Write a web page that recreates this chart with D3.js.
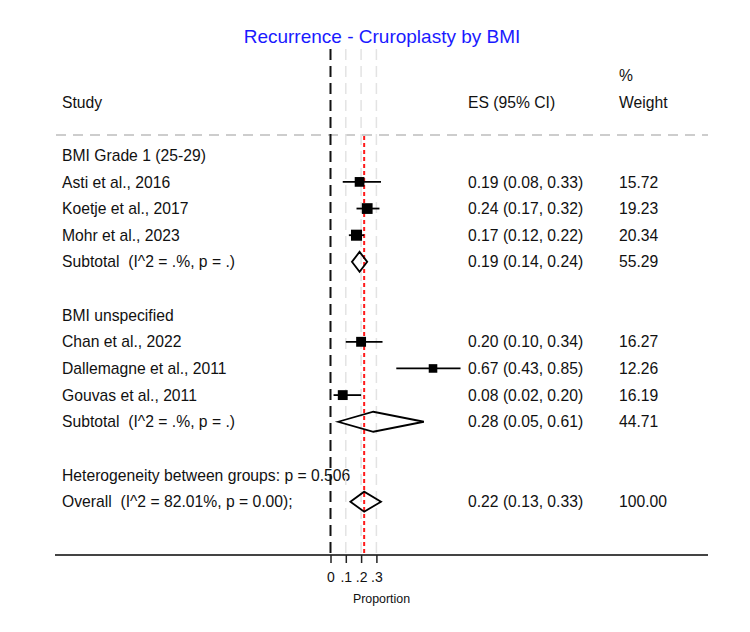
<!DOCTYPE html>
<html>
<head>
<meta charset="utf-8">
<script src="https://cdn.jsdelivr.net/npm/d3@7"></script>
<style>
	body { margin:0; background:#fff; }
	text { font-family: "Liberation Sans", Arial, sans-serif; fill:#111; white-space:pre; }
</style>
</head>
<body>
<svg id="chart" width="750" height="632"></svg>
<script>
// Study rows (row index into the table layout)
const studyNames = ['Asti et al., 2016','Koetje et al., 2017','Mohr et al., 2023','Chan et al., 2022','Dallemagne et al., 2011','Gouvas et al., 2011'];
const studyRows  = [4, 5, 6, 10, 11, 12];
const studyES    = [0.19, 0.24, 0.17, 0.20, 0.67, 0.08];
const studyLo    = [0.08, 0.17, 0.12, 0.10, 0.43, 0.02];
const studyHi    = [0.33, 0.32, 0.22, 0.34, 0.85, 0.20];
const studyW     = [15.72, 19.23, 20.34, 16.27, 12.26, 16.19];

// Pooled rows (diamonds)
const poolNames = ['Subtotal  (I^2 = .%, p = .)','Subtotal  (I^2 = .%, p = .)','Overall  (I^2 = 82.01%, p = 0.00);'];
const poolRows  = [7, 13, 16];
const poolES    = [0.19, 0.28, 0.22];
const poolLo    = [0.14, 0.05, 0.13];
const poolHi    = [0.24, 0.61, 0.33];
const poolW     = [55.29, 44.71, 100.00];

const groupNames = ['BMI Grade 1 (25-29)','BMI unspecified'];
const groupRows  = [3, 9];
const hetText = 'Heterogeneity between groups: p = 0.506';
const hetRow = 15;

const xTicks = [0, 0.1, 0.2, 0.3];
const tickLabels = ['0','.1','.2','.3'];

const svg = d3.select('#chart');
const f2 = d3.format('.2f');

const x = d3.scaleLinear().domain([0,1]).range([330.5,483.5]);
const y = d3.scaleLinear().domain([0,1]).range([75.3,101.95]);
const axisY = 555;
const topY = 49;
const colLabel = 62, colES = 468, colW = 619;
const fs = 15.7;
const base = 5.6; // row centre -> baseline

// title
svg.append('text')
	.attr('x',382).attr('y',43)
	.attr('text-anchor','middle')
	.style('font-size','19px')
	.style('fill','#1a1aff')
	.text('Recurrence - Cruroplasty by BMI');

// headers
const hdr = svg.append('g').style('font-size',fs+'px');
hdr.append('text').attr('x',colW).attr('y',y(0)+base).text('%');
hdr.append('text').attr('x',colLabel).attr('y',y(1)+base).text('Study');
hdr.append('text').attr('x',colES).attr('y',y(1)+base).text('ES (95% CI)');
hdr.append('text').attr('x',colW).attr('y',y(1)+base).text('Weight');

svg.append('line')
	.attr('x1',56).attr('x2',708).attr('y1',135).attr('y2',135)
	.attr('stroke','#bdbdbd').attr('stroke-width',1.3)
	.attr('stroke-dasharray','10,7');

// text columns
const txt = svg.append('g').style('font-size',fs+'px');
groupNames.forEach((g,i)=>{
	txt.append('text').attr('x',colLabel).attr('y',y(groupRows[i])+base).text(g);
});
studyNames.forEach((s,i)=>{
	const yy = y(studyRows[i])+base;
	txt.append('text').attr('x',colLabel).attr('y',yy).text(s);
	txt.append('text').attr('x',colES).attr('y',yy)
		.text(f2(studyES[i])+' ('+f2(studyLo[i])+', '+f2(studyHi[i])+')');
	txt.append('text').attr('x',colW).attr('y',yy).text(f2(studyW[i]));
});
poolNames.forEach((s,i)=>{
	const yy = y(poolRows[i])+base;
	txt.append('text').attr('x',colLabel).attr('y',yy).text(s);
	txt.append('text').attr('x',colES).attr('y',yy)
		.text(f2(poolES[i])+' ('+f2(poolLo[i])+', '+f2(poolHi[i])+')');
	txt.append('text').attr('x',colW).attr('y',yy).text(f2(poolW[i]));
});
txt.append('text').attr('x',colLabel).attr('y',y(hetRow)+base).text(hetText);

// grid lines at ticks
svg.append('g').selectAll('line').data(xTicks.slice(1)).join('line')
	.attr('x1',d=>x(d)).attr('x2',d=>x(d))
	.attr('y1',topY).attr('y2',axisY)
	.attr('stroke','#e3e3e3').attr('stroke-width',1.5)
	.attr('stroke-dasharray','11,6');

// null line
svg.append('line')
	.attr('x1',x(0)).attr('x2',x(0)).attr('y1',topY).attr('y2',axisY)
	.attr('stroke','#111').attr('stroke-width',2)
	.attr('stroke-dasharray','11,6');

// overall effect line
svg.append('line')
	.attr('x1',x(poolES[2])).attr('x2',x(poolES[2]))
	.attr('y1',136).attr('y2',axisY)
	.attr('stroke','#ff1a1a').attr('stroke-width',2)
	.attr('stroke-dasharray','4,3');

// CI lines and boxes
const marks = svg.append('g');
studyNames.forEach((s,i)=>{
	const yy = y(studyRows[i]);
	marks.append('line')
		.attr('x1',x(studyLo[i])).attr('x2',x(studyHi[i]))
		.attr('y1',yy).attr('y2',yy)
		.attr('stroke','#000').attr('stroke-width',1.8);
	const side = 2.45*Math.sqrt(studyW[i]);
	marks.append('rect')
		.attr('x',x(studyES[i])-side/2).attr('y',yy-side/2)
		.attr('width',side).attr('height',side)
		.attr('fill','#000');
});

// diamonds
poolNames.forEach((s,i)=>{
	const yy = y(poolRows[i]);
	const h = 10;
	const pts = [[x(poolLo[i]),yy],[x(poolES[i]),yy-h],[x(poolHi[i]),yy],[x(poolES[i]),yy+h]];
	marks.append('path')
		.attr('d','M'+pts.map(p=>p.join(',')).join('L')+'Z')
		.attr('fill','none').attr('stroke','#000').attr('stroke-width',1.8)
		.attr('stroke-linejoin','miter');
});

// axis
svg.append('line')
	.attr('x1',55).attr('x2',708).attr('y1',axisY).attr('y2',axisY)
	.attr('stroke','#444').attr('stroke-width',2);

const axis = d3.axisBottom(x).tickValues(xTicks)
	.tickFormat((d,i)=>tickLabels[i]).tickSize(8).tickPadding(9);
const axisG = svg.append('g').attr('transform',`translate(0,${axisY})`).call(axis);
axisG.select('.domain').remove();
axisG.selectAll('line').attr('stroke','#222').attr('stroke-width',1.5);
axisG.selectAll('text').style('font-size','14px').style('font-family','"Liberation Sans", Arial, sans-serif').attr('fill','#111');

svg.append('text')
	.attr('x',381.5).attr('y',603)
	.attr('text-anchor','middle')
	.style('font-size','12.4px')
	.text('Proportion');
</script>
</body>
</html>
